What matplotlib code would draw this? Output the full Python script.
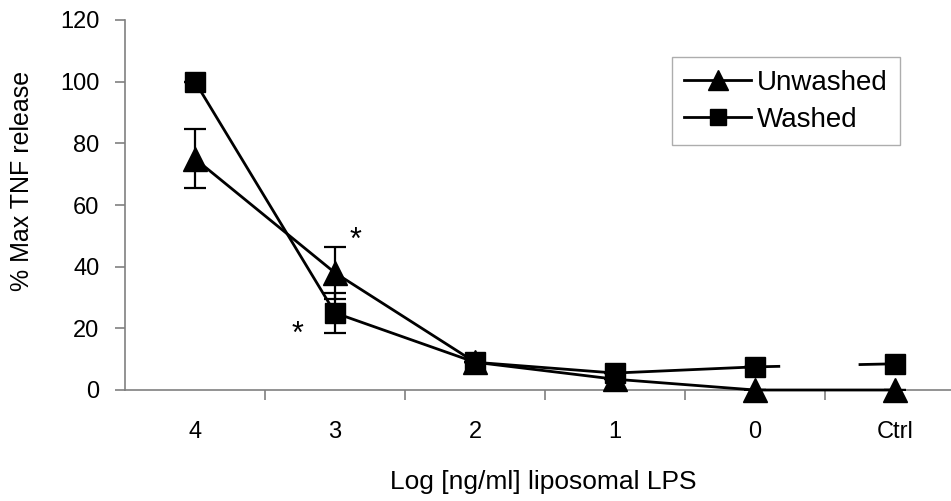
import matplotlib.pyplot as plt
from matplotlib.lines import Line2D
import numpy as np

plt.rcParams['font.family'] = ['Liberation Sans', 'DejaVu Sans']

# data
categories = ["4", "3", "2", "1", "0", "Ctrl"]
unwashed = [75, 38, 9, 3.5, 0, 0]
unwashed_err = [9.5, 8.5, 0, 0, 0, 0]
washed = [100, 25, 9, 5.5, 7.5, 8.5]
washed_err = [0, 6.5, 0, 0, 0, 0]

x = np.arange(len(categories))
# the washed line is broken between "0" and "Ctrl"
gap_start, gap_end = 0.17, 0.75

fig = plt.figure(figsize=(9.51, 5.01), dpi=100)
ax = fig.add_axes([125 / 951, 111 / 501, 840 / 951, 370 / 501])

line_kw = dict(color='black', lw=2.0, capsize=8, elinewidth=1.6, capthick=1.6, zorder=3)
eb1 = ax.errorbar(x, unwashed, yerr=unwashed_err, marker='^', ms=17, **line_kw)
eb2 = ax.errorbar(x[:5], washed[:5], yerr=washed_err[:5], marker='s', ms=14, **line_kw)
for eb in (eb1, eb2):
    eb[0].set_clip_on(False)
ax.plot(x[5], washed[5], marker='s', ms=14, color='black', zorder=3, clip_on=False)
dy = washed[5] - washed[4]
ax.plot([x[4], x[4] + gap_start], [washed[4], washed[4] + dy * gap_start],
        color='black', lw=2.0, zorder=2)
ax.plot([x[4] + gap_end, x[5]], [washed[4] + dy * gap_end, washed[5]],
        color='black', lw=2.0, zorder=2)

# significance marks
ax.text(x[1] + 0.15, unwashed[1] + 10.5, '*', fontsize=22, ha='center', va='center')
ax.text(x[1] - 0.27, washed[1] - 7.0, '*', fontsize=22, ha='center', va='center')

ax.set_xlim(-0.5, 5.5)
ax.set_ylim(0, 120)
ax.set_yticks(np.arange(0, 121, 20))
ax.set_xticks(x)
ax.set_xticklabels(categories)
ax.set_xticks(np.arange(0.5, 5.5, 1), minor=True)

for side in ['top', 'right']:
    ax.spines[side].set_visible(False)
for side in ['left', 'bottom']:
    ax.spines[side].set_color('#808080')
    ax.spines[side].set_linewidth(1.2)

ax.tick_params(axis='x', which='major', length=0, pad=22, labelsize=17)
ax.tick_params(axis='x', which='minor', length=7, color='#808080', width=1.2)
ax.tick_params(axis='y', length=7, color='#808080', width=1.2, pad=11.5, labelsize=17)

ax.set_xlabel('Log [ng/ml] liposomal LPS', fontsize=19)
ax.xaxis.set_label_coords((543 - 125) / 840, -0.215)
ax.set_ylabel('% Max TNF release', fontsize=18)
ax.yaxis.set_label_coords(-(125 - 34) / 840, 0.565)

handles = [
    Line2D([], [], color='black', lw=2.0, marker='^', ms=15),
    Line2D([], [], color='black', lw=2.0, marker='s', ms=12),
]
leg = ax.legend(handles, ['Unwashed', 'Washed'], loc='upper left',
                bbox_to_anchor=(547 / 840, 0.9), fontsize=20,
                frameon=True, fancybox=False, edgecolor='#999999',
                handlelength=2.4, borderpad=0.45, labelspacing=0.4, handletextpad=0.2,
                borderaxespad=0)
leg.get_frame().set_linewidth(1.0)

fig.savefig('out.png', dpi=100)
